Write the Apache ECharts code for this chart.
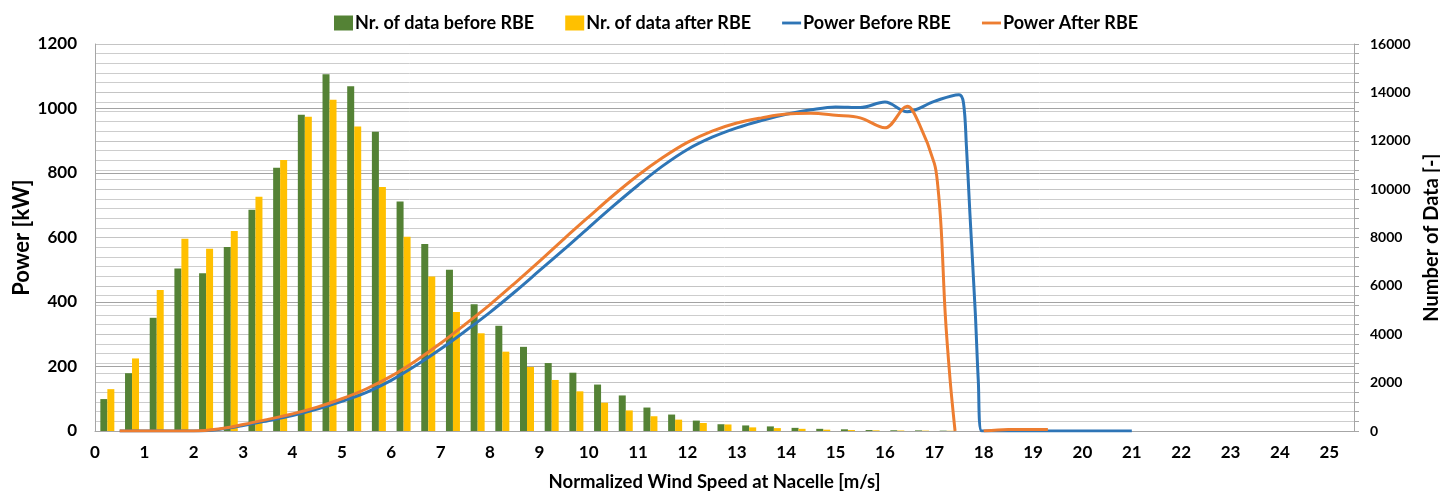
<!DOCTYPE html>
<html>
<head>
<meta charset="utf-8">
<script src="https://cdn.jsdelivr.net/npm/echarts@6/dist/echarts.min.js"></script>
<style>
html,body{margin:0;padding:0;background:#fff;}
#chart{width:1440px;height:493px;}
</style>
</head>
<body>
<div id="chart"></div>
<script>
// Bin centres (m/s) for the count bars
const binCenters = [0.25,0.75,1.25,1.75,2.25,2.75,3.25,3.75,4.25,4.75,5.25,5.75,6.25,6.75,7.25,7.75,8.25,8.75,9.25,9.75,10.25,10.75,11.25,11.75,12.25,12.75,13.25,13.75,14.25,14.75,15.25,15.75,16.25,16.75,17.25];
// Number of data before / after RBE (right axis)
const countBefore = [1320,2390,4680,6720,6520,7610,9150,10880,13080,14750,14250,12370,9490,7730,6670,5240,4350,3480,2810,2410,1920,1470,970,680,430,280,230,190,130,90,70,40,30,25,15];
const countAfter  = [1730,3000,5830,7950,7530,8270,9680,11200,12990,13690,12590,10090,8030,6390,4920,4040,3280,2650,2110,1640,1170,850,610,470,330,270,150,120,90,55,40,27,20,15,10];

// Power before RBE (left axis)
const powerBeforeX = [0.5,1,1.5,2,2.5,3,3.5,4,4.5,5,5.5,6,6.5,7,7.5,8,8.5,9,9.5,10,10.5,11,11.5,12,12.5,13,13.5,14,14.5,15,15.5,16,16.45,17,17.5,17.59,17.65,17.72,17.83,17.89,17.96,18.5,19,19.5,20,20.5,21];
const powerBeforeY = [0,0,0,0,5,17,32,48,68,92,120,157,203,254,310,368,431,497,563,631,698,762,822,873,911,940,963,982,996,1005,1003,1020,990,1022,1043,1018,883,676,365,158,0,0,0,0,0,0,0];

// Power after RBE (left axis); null = gap (curve below axis)
const powerAfterX = [0.5,1,1.5,2,2.5,3,3.5,4,4.5,5,5.5,6,6.5,7,7.5,8,8.5,9,9.5,10,10.5,11,11.5,12,12.5,13,13.5,14,14.5,15,15.5,16,16.45,16.7,17,17.07,17.14,17.22,17.32,17.42,17.7,18,18.5,19,19.3];
const powerAfterY = [0,0,0,0,6,20,36,53,74,100,131,170,218,272,331,392,458,526,596,664,731,793,848,895,930,955,971,983,985,979,971,940,1007,950,830,760,624,365,158,0,null,0,5,5,5];

const legendNames = ['Nr. of data before RBE','Nr. of data after RBE','Power Before RBE','Power After RBE'];

const zip = (xs, ys) => xs.map((x, i) => [x, ys[i]]);
const FONT = 'Lato, "Open Sans", sans-serif';
const LINE_ICON = 'path://M0,0 L20,0 L20,3 L0,3 Z';

const chart = echarts.init(document.getElementById('chart'), null, {renderer: 'canvas'});
chart.setOption({
  animation: false,
  textStyle: {fontFamily: FONT},
  legend: {
    top: 9, left: 329, itemGap: 31, itemWidth: 19, itemHeight: 15,
    symbolKeepAspect: true,
    textStyle: {fontFamily: FONT, fontSize: 18, fontWeight: 'bold', color: '#000', padding: [0, 0, 0, -3]},
    data: [
      {name: legendNames[0], icon: 'rect'},
      {name: legendNames[1], icon: 'rect'},
      {name: legendNames[2], icon: LINE_ICON},
      {name: legendNames[3], icon: LINE_ICON}
    ]
  },
  grid: {left: 95, right: 86, top: 44, bottom: 62, outerBoundsMode: 'none', containLabel: false},
  xAxis: {
    type: 'value', min: 0, max: 25.5, interval: 1,
    axisLine: {show: true, lineStyle: {color: '#a6a6a6', width: 1}},
    axisTick: {show: false},
    splitLine: {show: false},
    axisLabel: {
      formatter: v => Number.isInteger(v) ? String(v) : '',
      fontFamily: FONT, fontSize: 17, fontWeight: 'bold', color: '#000', margin: 13
    },
    name: 'Normalized Wind Speed at Nacelle [m/s]',
    nameLocation: 'middle', nameGap: 42,
    nameTextStyle: {fontFamily: FONT, fontSize: 18.5, fontWeight: 'bold', color: '#000', padding: [0, 20, 0, 0]}
  },
  yAxis: [
    {
      type: 'value', min: 0, max: 1200, interval: 200, position: 'left',
      axisLine: {show: true, lineStyle: {color: '#a6a6a6'}},
      axisTick: {show: false},
      splitLine: {show: true, lineStyle: {color: '#a3a3a3', width: 1}},
      axisLabel: {formatter: v => String(v), fontFamily: FONT, fontSize: 17, fontWeight: 'bold', color: '#000', margin: 18},
      name: 'Power [kW]', nameLocation: 'middle', nameRotate: 90, nameGap: 62, nameMoveOverlap: false,
      nameTextStyle: {fontFamily: FONT, fontSize: 22, fontWeight: 'bold', color: '#000'}
    },
    {
      type: 'value', min: 0, max: 16000, interval: 2000, position: 'right',
      axisLine: {show: true, lineStyle: {color: '#a6a6a6'}},
      axisTick: {show: true, length: 5, lineStyle: {color: '#a6a6a6'}},
      minorTick: {show: true, splitNumber: 5, length: 5, lineStyle: {color: '#a6a6a6'}},
      splitLine: {show: true, lineStyle: {color: '#c4c4c4', width: 1}},
      minorSplitLine: {show: true, lineStyle: {color: '#cdcdcd', width: 1}},
      axisLabel: {formatter: v => String(v), fontFamily: FONT, fontSize: 14, fontWeight: 'bold', color: '#000', margin: 16},
      name: 'Number of Data [-]', nameLocation: 'middle', nameRotate: 90, nameGap: 62,
      nameTextStyle: {fontFamily: FONT, fontSize: 20, fontWeight: 'bold', color: '#000'}
    }
  ],
  series: [
    {
      name: legendNames[0], type: 'bar', yAxisIndex: 1,
      data: zip(binCenters, countBefore), barWidth: 7, barGap: '0%',
      itemStyle: {color: '#548235'}
    },
    {
      name: legendNames[1], type: 'bar', yAxisIndex: 1,
      data: zip(binCenters, countAfter), barWidth: 7, barGap: '0%',
      itemStyle: {color: '#FFC000'}
    },
    {
      name: legendNames[2], type: 'line', yAxisIndex: 0,
      data: zip(powerBeforeX, powerBeforeY), smooth: 0.35, symbol: 'none',
      lineStyle: {color: '#2E75B6', width: 3}, itemStyle: {color: '#2E75B6'}, z: 3
    },
    {
      name: legendNames[3], type: 'line', yAxisIndex: 0,
      data: zip(powerAfterX, powerAfterY), smooth: 0.35, symbol: 'none',
      lineStyle: {color: '#ED7D31', width: 3}, itemStyle: {color: '#ED7D31'}, z: 4
    }
  ]
});
</script>
</body>
</html>
